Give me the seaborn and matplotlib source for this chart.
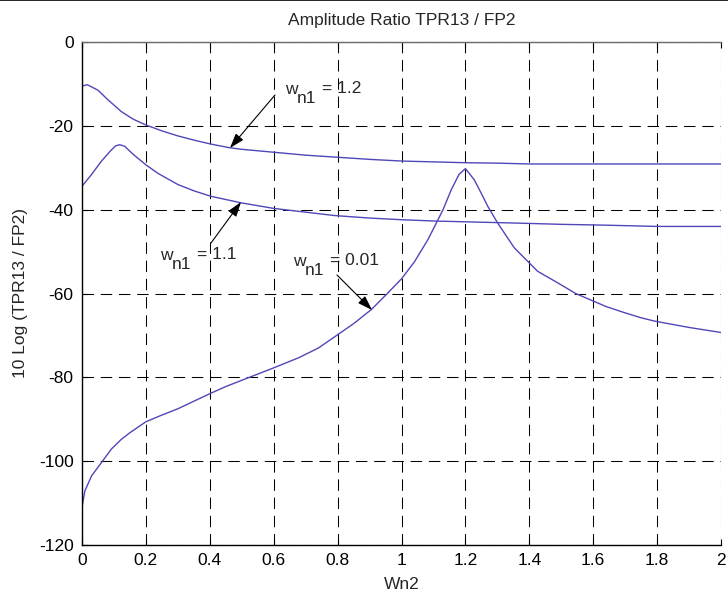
import matplotlib
matplotlib.use("Agg")
import matplotlib.pyplot as plt
import seaborn as sns
import pandas as pd
from matplotlib.lines import Line2D

sns.set_style("white")
plt.rcParams['font.family'] = ['Liberation Sans', 'DejaVu Sans']

# ---- data ----
x_12 = [0, 0.017, 0.05, 0.08, 0.123, 0.16, 0.2, 0.25, 0.3, 0.35, 0.4, 0.46, 0.5,
        0.6, 0.7, 0.8, 0.9, 1.0, 1.1, 1.2, 1.3, 1.4, 1.6, 1.8, 2.0]
y_12 = [-10.5, -10.2, -11.5, -13.7, -16.6, -18.4, -19.8, -21.2, -22.4, -23.4, -24.3,
        -25.2, -25.6, -26.3, -27.0, -27.5, -28.0, -28.4, -28.6, -28.8, -28.9, -29.1,
        -29.1, -29.1, -29.1]

x_11 = [0, 0.03, 0.06, 0.09, 0.105, 0.118, 0.134, 0.16, 0.2, 0.237, 0.3, 0.35, 0.403,
        0.5, 0.6, 0.7, 0.79, 0.9, 1.0, 1.1, 1.2, 1.36, 1.5, 1.64, 1.8, 2.0]
y_11 = [-34.4, -31.6, -28.5, -25.9, -24.8, -24.5, -24.9, -26.8, -29.3, -31.3, -34.0,
        -35.5, -36.8, -38.4, -39.7, -40.6, -41.4, -42.0, -42.4, -42.7, -42.9, -43.2,
        -43.5, -43.7, -44.0, -44.0]

x_001 = [0, 0.009, 0.03, 0.066, 0.092, 0.123, 0.15, 0.2, 0.25, 0.3, 0.35, 0.403, 0.45,
         0.507, 0.598, 0.679, 0.74, 0.797, 0.85, 0.906, 0.953, 1.0, 1.04, 1.083, 1.13,
         1.156, 1.18, 1.2, 1.228, 1.249, 1.27, 1.301, 1.353, 1.426, 1.49, 1.545, 1.591,
         1.64, 1.695, 1.75, 1.793, 1.9, 2.0]
y_001 = [-111, -107.1, -103.5, -99.8, -97.1, -94.8, -93.2, -90.6, -89.0, -87.5, -85.7,
         -83.8, -82.2, -80.5, -77.8, -75.3, -73.0, -70.0, -67.2, -63.8, -60.2, -56.5,
         -52.5, -47.1, -40.0, -35.2, -31.6, -30.2, -32.9, -36.0, -39.2, -43.2, -49.1,
         -54.7, -57.5, -60.0, -61.5, -63.1, -64.5, -65.8, -66.6, -68.1, -69.3]

x_ticks = [0, 0.2, 0.4, 0.6, 0.8, 1.0, 1.2, 1.4, 1.6, 1.8, 2.0]
x_tick_labels = ["0", "0.2", "0.4", "0.6", "0.8", "1", "1.2", "1.4", "1.6", "1.8", "2"]
y_ticks = [0, -20, -40, -60, -80, -100, -120]
y_tick_labels = ["0", "-20", "-40", "-60", "-80", "-100", "-120"]

title = "Amplitude Ratio TPR13 / FP2"
xlabel = "Wn2"
ylabel = "10 Log (TPR13 / FP2)"

line_color = "#4f47b8"

fig = plt.figure(figsize=(7.28, 5.99), dpi=100)
ax = fig.add_axes([82/728, 1-545/599, (721-82)/728, (545-42)/599])

for xs, ys in [(x_12, y_12), (x_11, y_11), (x_001, y_001)]:
    df = pd.DataFrame({"x": xs, "y": ys})
    sns.lineplot(data=df, x="x", y="y", ax=ax, color=line_color, lw=1.0,
                 estimator=None, sort=False)

ax.set_xlim(0, 2)
ax.set_ylim(-120, 0)
ax.set_xticks(x_ticks)
ax.set_xticklabels(x_tick_labels)
ax.set_yticks(y_ticks)
ax.set_yticklabels(y_tick_labels)

ax.grid(True, color="black", linestyle=(0, (11, 6.5)), lw=0.75)
ax.set_axisbelow(True)

for s in ["left", "bottom"]:
    ax.spines[s].set_color("black")
    ax.spines[s].set_linewidth(1.0)
ax.spines["top"].set_color("#6a6a6a")
ax.spines["top"].set_linewidth(1.0)
ax.spines["right"].set_visible(False)

ax.tick_params(axis="both", direction="in", length=4, width=0.8, labelsize=12.5,
               top=True, bottom=True, left=True, right=False, colors="black", pad=6)

ax.set_title(title, fontsize=12.5, pad=12)
ax.set_xlabel(xlabel, fontsize=12.5, labelpad=6)
ax.set_ylabel(ylabel, fontsize=12.5, labelpad=8)

# annotations
def px2data(px, py):
    return (px - 82) / (721 - 82) * 2.0, -(py - 42) / (545 - 42) * 120.0

ann = [
    # (label value, w text pos px, arrow tail px, arrow head px)
    ("1.2", (285, 94), (275, 95), (230, 148)),
    ("1.1", (160, 260), (211, 243), (241, 202)),
    ("0.01", (293, 266), (337, 275), (372, 310)),
]
fs = 12.5
for val, (tx, ty), tail, head in ann:
    ax.annotate("", xy=px2data(*head), xytext=px2data(*tail),
                arrowprops=dict(arrowstyle="-|>,head_length=0.9,head_width=0.3",
                                color="black", lw=0.8, shrinkA=0, shrinkB=0))
    wx, wy = px2data(tx, ty)
    ax.text(wx, wy, "w", fontsize=fs, ha="left", va="baseline")
    nx, ny = px2data(tx + 12, ty + 9)
    ax.text(nx, ny, "n1", fontsize=fs, ha="left", va="baseline")
    ex, ey = px2data(tx + 37, ty - 1)
    ax.text(ex, ey, "= " + val, fontsize=fs, ha="left", va="baseline")

fig.add_artist(Line2D([0, 1], [0.9995, 0.9995], transform=fig.transFigure,
                      color="black", lw=1.2))

fig.savefig("out.png", dpi=100)
